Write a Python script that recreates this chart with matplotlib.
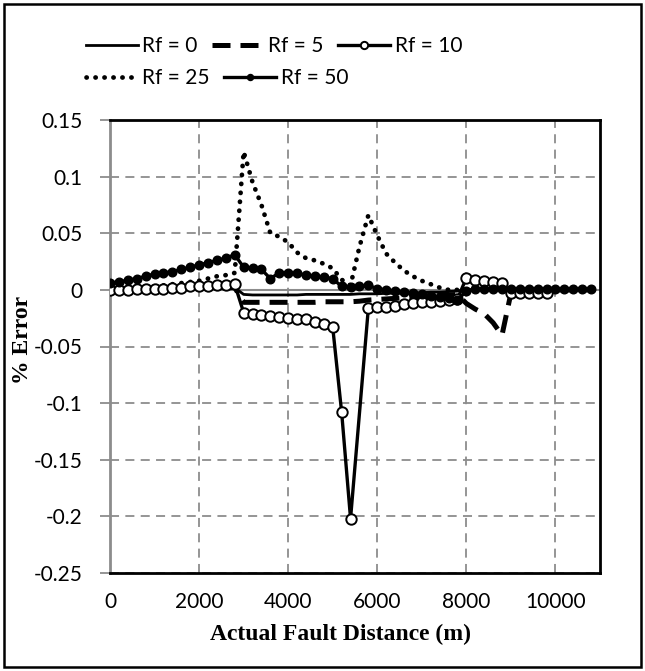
import matplotlib
matplotlib.use("Agg")
import matplotlib.pyplot as plt
from matplotlib.patches import Rectangle

# ---------------- data ----------------
x_all = [0, 200, 400, 600, 800, 1000, 1200, 1400, 1600, 1800, 2000, 2200, 2400, 2600, 2800,
         3000, 3200, 3400, 3600, 3800, 4000, 4200, 4400, 4600, 4800, 5000, 5200, 5400, 5600,
         5800, 6000, 6200, 6400, 6600, 6800, 7000, 7200, 7400, 7600, 7800,
         8000, 8200, 8400, 8600, 8800, 9000, 9200, 9400, 9600, 9800, 10000, 10200, 10400,
         10600, 10800]

rf0 = [0.000, 0.000, 0.000, 0.001, 0.001, 0.001, 0.001, 0.001, 0.002, 0.002, 0.002, 0.002,
       0.002, 0.002, 0.002,
       -0.004, -0.0045, -0.0045, -0.0045, -0.0045, -0.0045, -0.0045, -0.004, -0.004, -0.004,
       -0.004, -0.004, -0.004, -0.0035, -0.0035, -0.0035, -0.003, -0.003, -0.003, -0.0025,
       -0.0025, -0.002, -0.002, -0.0015, -0.001,
       0.000, 0.000, 0.000, 0.000, 0.000, 0.000, 0.000, 0.000, 0.000, 0.000, 0.000, 0.000,
       0.000, 0.000, 0.000]

rf5 = [0.000, 0.000, 0.001, 0.001, 0.001, 0.001, 0.001, 0.002, 0.002, 0.002, 0.002, 0.002,
       0.002, 0.002, 0.002,
       -0.011, -0.011, -0.011, -0.011, -0.011, -0.011, -0.011, -0.011, -0.011, -0.0105,
       -0.0105, -0.0105, -0.0105, -0.010, -0.009, -0.0085, -0.008, -0.0075, -0.007, -0.0065,
       -0.006, -0.0055, -0.005, -0.0045, -0.004,
       -0.012, -0.017, -0.021, -0.029, -0.040, -0.003, 0.000, 0.000, 0.000, 0.000, 0.000,
       0.000, 0.000, 0.000, 0.000]

x_rf10 = [0, 200, 400, 600, 800, 1000, 1200, 1400, 1600, 1800, 2000, 2200, 2400, 2600, 2800,
          3000, 3200, 3400, 3600, 3800, 4000, 4200, 4400, 4600, 4800, 5000, 5200, 5400,
          5800, 6000, 6200, 6400, 6600, 6800, 7000, 7200, 7400, 7600, 7800,
          8000, 8200, 8400, 8600, 8800, 9000, 9200, 9400, 9600, 9800]
rf10 = [0.000, 0.000, 0.000, 0.001, 0.001, 0.001, 0.001, 0.002, 0.002, 0.003, 0.003, 0.003,
        0.004, 0.004, 0.005,
        -0.020, -0.021, -0.022, -0.023, -0.024, -0.025, -0.026, -0.026, -0.028, -0.030,
        -0.033, -0.108, -0.202,
        -0.016, -0.015, -0.0147, -0.0138, -0.0124, -0.0118, -0.011, -0.0103, -0.0094,
        -0.0088, -0.008,
        0.0105, 0.009, 0.0075, 0.0073, 0.0065, -0.003, -0.003, -0.003, -0.003, -0.003]

rf25 = [0.000, 0.001, 0.001, 0.002, 0.002, 0.003, 0.004, 0.005, 0.006, 0.007, 0.008, 0.010,
        0.012, 0.013, 0.015,
        0.122, 0.095, 0.075, 0.050, 0.047, 0.042, 0.033, 0.028, 0.026, 0.023, 0.019, 0.009,
        0.004, 0.038, 0.066, 0.048, 0.032, 0.024, 0.017, 0.012, 0.008, 0.005, 0.002, 0.000,
        0.000,
        0.000, 0.000, 0.000, 0.000, 0.000, 0.000, 0.000, 0.000, 0.000, 0.000, 0.000, 0.000,
        0.000, 0.000, 0.000]

rf50 = [0.006, 0.007, 0.0085, 0.010, 0.012, 0.014, 0.015, 0.016, 0.018, 0.020, 0.022, 0.024,
        0.026, 0.028, 0.031,
        0.020, 0.019, 0.018, 0.010, 0.015, 0.015, 0.0145, 0.013, 0.012, 0.011, 0.010, 0.003,
        0.0025, 0.003, 0.004, 0.001, 0.000, -0.001, -0.002, -0.003, -0.004, -0.005, -0.006,
        -0.007, -0.009,
        -0.001, 0.001, 0.001, 0.001, 0.001, 0.001, 0.001, 0.001, 0.001, 0.001, 0.001, 0.001,
        0.001, 0.001, 0.001]

labels = ["Rf = 0", "Rf = 5", "Rf = 10", "Rf = 25", "Rf = 50"]
x_ticks = [0, 2000, 4000, 6000, 8000, 10000]
y_ticks = [-0.25, -0.2, -0.15, -0.1, -0.05, 0, 0.05, 0.1, 0.15]
y_ticklabels = ["-0.25", "-0.2", "-0.15", "-0.1", "-0.05", "0", "0.05", "0.1", "0.15"]

# ---------------- figure ----------------
W, H = 645, 671
fig = plt.figure(figsize=(W / 100, H / 100), dpi=100)
left, right, top, bottom = 110, 600, 120, 573
ax = fig.add_axes([left / W, 1 - bottom / H, (right - left) / W, (bottom - top) / H])

sans = ["Lato", "DejaVu Sans"]
serif = ["Liberation Serif", "DejaVu Serif"]

ax.axhline(0, color="#8c8c8c", lw=1.5, zorder=1)

l0, = ax.plot(x_all, rf0, color="black", lw=2.0, zorder=3)
l5, = ax.plot(x_all, rf5, color="black", lw=3.6, dashes=(3.6, 2.0), zorder=3)
l10, = ax.plot(x_rf10, rf10, color="black", lw=2.4, marker="o", markersize=7.5,
               markerfacecolor="white", markeredgecolor="black", markeredgewidth=1.4, zorder=4)
l25, = ax.plot(x_all, rf25, color="black", lw=3.4, linestyle=(0, (0.05, 1.85)),
               dash_capstyle="round", zorder=3)
l50, = ax.plot(x_all, rf50, color="black", lw=2.4, marker="o", markersize=6.2,
               markerfacecolor="black", markeredgecolor="black", zorder=5)

ax.set_xlim(0, 11000)
ax.set_ylim(-0.25, 0.15)
ax.set_xticks(x_ticks)
ax.set_xticklabels([str(v) for v in x_ticks], fontfamily=sans, fontsize=15)
ax.set_yticks(y_ticks)
ax.set_yticklabels(y_ticklabels, fontfamily=sans, fontsize=15)

ax.tick_params(axis="x", length=0, pad=14)
ax.tick_params(axis="y", length=7, width=1.3, color="#8c8c8c", pad=13, direction="out")

ax.grid(True, color="#8c8c8c", lw=1.3, linestyle=(0, (5, 3.5)))
ax.set_axisbelow(True)

for s in ["top", "right", "bottom"]:
    ax.spines[s].set_color("black")
    ax.spines[s].set_linewidth(2.0)
ax.spines["left"].set_color("#8c8c8c")
ax.spines["left"].set_linewidth(2.0)

ax.set_xlabel("Actual Fault Distance (m)", fontfamily=serif, fontweight="bold", fontsize=17)
ax.xaxis.set_label_coords((340 - left) / (right - left), -(624 - bottom) / (bottom - top))
ax.set_ylabel("% Error", fontfamily=serif, fontweight="bold", fontsize=17)
ax.yaxis.set_label_coords(-(110 - 33) / (right - left), (bottom - 340) / (bottom - top))

# ---------------- legend (two rows, as in Excel) ----------------
leg_kw = dict(frameon=False, prop={"family": sans, "size": 15}, handlelength=2.5,
              handletextpad=0.2, columnspacing=0.7, borderpad=0, borderaxespad=0,
              loc="upper left", markerscale=0.7)
leg1 = fig.legend([l0, l5, l10], labels[:3], ncol=3,
                  bbox_to_anchor=(86 / W, 1 - 36 / H), **leg_kw)
leg2 = fig.legend([l25, l50], labels[3:], ncol=2,
                  bbox_to_anchor=(86 / W, 1 - 68 / H), **leg_kw)

# outer chart border
fig.patches.append(Rectangle((4 / W, 4 / H), 1 - 8 / W, 1 - 8 / H, transform=fig.transFigure,
                             fill=False, edgecolor="black", lw=1.8))

fig.savefig("out.png", dpi=100)
